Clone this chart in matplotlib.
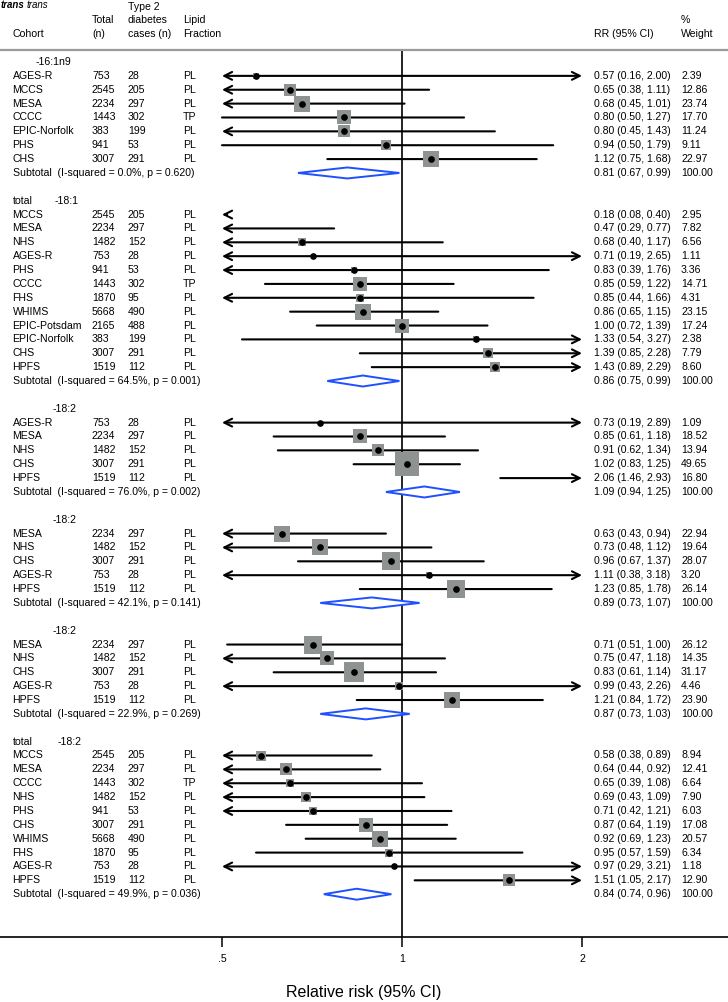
import matplotlib.pyplot as plt
from matplotlib import transforms
from matplotlib.ticker import NullLocator

plt.rcParams['font.family'] = ['Liberation Sans', 'DejaVu Sans']
plt.rcParams['font.size'] = 7.6

# cohort details (shared by every section)
cohort_names = ['AGES-R', 'MCCS', 'MESA', 'CCCC', 'EPIC-Norfolk', 'PHS', 'CHS',
                'NHS', 'FHS', 'WHIMS', 'EPIC-Potsdam', 'HPFS']
cohort_total = [753, 2545, 2234, 1443, 383, 941, 3007, 1482, 1870, 5668, 2165, 1519]
cohort_cases = [28, 205, 297, 302, 199, 53, 291, 152, 95, 490, 488, 112]
cohort_lipid = ['PL', 'PL', 'PL', 'TP', 'PL', 'PL', 'PL', 'PL', 'PL', 'PL', 'PL', 'PL']

# -16:1n9
s1_cohorts = ['AGES-R', 'MCCS', 'MESA', 'CCCC', 'EPIC-Norfolk', 'PHS', 'CHS']
s1_rr = [0.57, 0.65, 0.68, 0.80, 0.80, 0.94, 1.12]
s1_lo = [0.16, 0.38, 0.45, 0.50, 0.45, 0.50, 0.75]
s1_hi = [2.00, 1.11, 1.01, 1.27, 1.43, 1.79, 1.68]
s1_wt = [2.39, 12.86, 23.74, 17.70, 11.24, 9.11, 22.97]
s1_sub = (0.81, 0.67, 0.99, 0.0, 0.620)

# total -18:1
s2_cohorts = ['MCCS', 'MESA', 'NHS', 'AGES-R', 'PHS', 'CCCC', 'FHS', 'WHIMS',
              'EPIC-Potsdam', 'EPIC-Norfolk', 'CHS', 'HPFS']
s2_rr = [0.18, 0.47, 0.68, 0.71, 0.83, 0.85, 0.85, 0.86, 1.00, 1.33, 1.39, 1.43]
s2_lo = [0.08, 0.29, 0.40, 0.19, 0.39, 0.59, 0.44, 0.65, 0.72, 0.54, 0.85, 0.89]
s2_hi = [0.40, 0.77, 1.17, 2.65, 1.76, 1.22, 1.66, 1.15, 1.39, 3.27, 2.28, 2.29]
s2_wt = [2.95, 7.82, 6.56, 1.11, 3.36, 14.71, 4.31, 23.15, 17.24, 2.38, 7.79, 8.60]
s2_sub = (0.86, 0.75, 0.99, 64.5, 0.001)

# -18:2 (a)
s3_cohorts = ['AGES-R', 'MESA', 'NHS', 'CHS', 'HPFS']
s3_rr = [0.73, 0.85, 0.91, 1.02, 2.06]
s3_lo = [0.19, 0.61, 0.62, 0.83, 1.46]
s3_hi = [2.89, 1.18, 1.34, 1.25, 2.93]
s3_wt = [1.09, 18.52, 13.94, 49.65, 16.80]
s3_sub = (1.09, 0.94, 1.25, 76.0, 0.002)

# -18:2 (b)
s4_cohorts = ['MESA', 'NHS', 'CHS', 'AGES-R', 'HPFS']
s4_rr = [0.63, 0.73, 0.96, 1.11, 1.23]
s4_lo = [0.43, 0.48, 0.67, 0.38, 0.85]
s4_hi = [0.94, 1.12, 1.37, 3.18, 1.78]
s4_wt = [22.94, 19.64, 28.07, 3.20, 26.14]
s4_sub = (0.89, 0.73, 1.07, 42.1, 0.141)

# -18:2 (c)
s5_cohorts = ['MESA', 'NHS', 'CHS', 'AGES-R', 'HPFS']
s5_rr = [0.71, 0.75, 0.83, 0.99, 1.21]
s5_lo = [0.51, 0.47, 0.61, 0.43, 0.84]
s5_hi = [1.00, 1.18, 1.14, 2.26, 1.72]
s5_wt = [26.12, 14.35, 31.17, 4.46, 23.90]
s5_sub = (0.87, 0.73, 1.03, 22.9, 0.269)

# total -18:2
s6_cohorts = ['MCCS', 'MESA', 'CCCC', 'NHS', 'PHS', 'CHS', 'WHIMS', 'FHS', 'AGES-R', 'HPFS']
s6_rr = [0.58, 0.64, 0.65, 0.69, 0.71, 0.87, 0.92, 0.95, 0.97, 1.51]
s6_lo = [0.38, 0.44, 0.39, 0.43, 0.42, 0.64, 0.69, 0.57, 0.29, 1.05]
s6_hi = [0.89, 0.92, 1.08, 1.09, 1.21, 1.19, 1.23, 1.59, 3.21, 2.17]
s6_wt = [8.94, 12.41, 6.64, 7.90, 6.03, 17.08, 20.57, 6.34, 1.18, 12.90]
s6_sub = (0.84, 0.74, 0.96, 49.9, 0.036)

# (left label, right label, right label x px, data)
sections = [
    ('', '-16:1n9', 36, s1_cohorts, s1_rr, s1_lo, s1_hi, s1_wt, s1_sub),
    ('total', '-18:1', 55, s2_cohorts, s2_rr, s2_lo, s2_hi, s2_wt, s2_sub),
    ('', '-18:2', 53, s3_cohorts, s3_rr, s3_lo, s3_hi, s3_wt, s3_sub),
    ('', '-18:2', 53, s4_cohorts, s4_rr, s4_lo, s4_hi, s4_wt, s4_sub),
    ('', '-18:2', 53, s5_cohorts, s5_rr, s5_lo, s5_hi, s5_wt, s5_sub),
    ('total', '-18:2', 58, s6_cohorts, s6_rr, s6_lo, s6_hi, s6_wt, s6_sub),
]

W, H = 728, 1002
ROW0, STEP = 62, 13.87
AXIS_PX = 937
XMIN, XMAX = 0.5, 2.0
BOX = '#8e9391'
BLUE = '#1f50ff'
RR_X, WT_X = 594, 681

fig = plt.figure(figsize=(W / 100, H / 100), dpi=100)
ax = fig.add_axes([0, 1 - AXIS_PX / H, 1, AXIS_PX / H])
ax.set_xscale('log')
ax.set_xlim(2 ** (-402 / 180), 2 ** (326 / 180))
ax.set_ylim((AXIS_PX - ROW0) / STEP, -ROW0 / STEP)
tr = transforms.blended_transform_factory(ax.transAxes, ax.transData)


def txt(px, row, s, **kw):
    ax.text(px / W, row, s, transform=tr, va='center', ha='left', **kw)


# header
txt(1, -4.1, 'trans', style='italic', fontsize=7, fontweight='bold')
txt(27, -4.1, 'trans', style='italic', fontsize=7)
txt(12.5, -2, 'Cohort')
txt(92, -3, 'Total')
txt(92, -2, '(n)')
txt(128, -4, 'Type 2')
txt(128, -3, 'diabetes')
txt(128, -2, 'cases (n)')
txt(183, -3, 'Lipid')
txt(183, -2, 'Fraction')
txt(RR_X, -2, 'RR (95% CI)')
txt(WT_X, -3, '%')
txt(WT_X, -2, 'Weight')
sep = -12 / STEP
ax.axhline(sep, color='#9a9a9a', lw=1.6)
ax.axvline(1, ymax=1 - 50 / AXIS_PX, color='black', lw=1.2, zorder=1)

row = 0
for left, right, rx, cohorts, rr, lo, hi, wt, sub in sections:
    if left:
        txt(12.5, row, left)
    txt(rx, row, right)
    row += 1
    for name, r, l, h, w in zip(cohorts, rr, lo, hi, wt):
        i = cohort_names.index(name)
        txt(12.5, row, name)
        txt(92, row, str(cohort_total[i]))
        txt(128, row, str(cohort_cases[i]))
        txt(183, row, cohort_lipid[i])
        txt(RR_X, row, f'{r:.2f} ({l:.2f}, {h:.2f})')
        txt(WT_X, row, f'{w:.2f}')
        aprops = dict(color='black', lw=1.5, shrinkA=0, shrinkB=0, mutation_scale=14)
        if h < XMIN:
            ax.annotate('', xy=(XMIN, row), xytext=(XMIN * 1.02, row),
                        arrowprops=dict(arrowstyle='->', **aprops), zorder=2)
        else:
            x0, x1 = max(l, XMIN), min(h, XMAX)
            la, ra = l < XMIN, h > 1.995
            style = {(True, True): '<->', (True, False): '<-',
                     (False, True): '->', (False, False): '-'}[(la, ra)]
            ax.annotate('', xy=(x1, row), xytext=(x0, row),
                        arrowprops=dict(arrowstyle=style, **aprops), zorder=2)
        if XMIN <= r <= XMAX:
            side = 3.45 * w ** 0.5 * 0.72
            ax.scatter([r], [row], s=side ** 2, marker='s', color=BOX, lw=0, zorder=3)
            ax.plot([r], [row], 'o', color='black', ms=3.8, zorder=4)
        row += 1
    est, slo, shi, i2, p = sub
    txt(12.5, row, f'Subtotal  (I-squared = {i2:.1f}%, p = {p:.3f})')
    txt(RR_X, row, f'{est:.2f} ({slo:.2f}, {shi:.2f})')
    txt(WT_X, row, '100.00')
    hh = 5.5 / STEP
    ax.fill([slo, est, shi, est, slo], [row, row - hh, row, row + hh, row],
            facecolor='white', edgecolor=BLUE, lw=1.4, zorder=5)
    row += 2

for s in ['top', 'left', 'right']:
    ax.spines[s].set_visible(False)
ax.spines['bottom'].set_linewidth(1.2)
ax.set_yticks([])
ax.set_xticks([0.5, 1, 2])
ax.set_xticklabels(['.5', '1', '2'])
ax.xaxis.set_minor_locator(NullLocator())
ax.tick_params(axis='x', length=7.5, width=1.1, pad=5, labelsize=7.6)
ax.set_xlabel('Relative risk (95% CI)', fontsize=11.5, labelpad=15)

fig.savefig('out.png', dpi=100)
